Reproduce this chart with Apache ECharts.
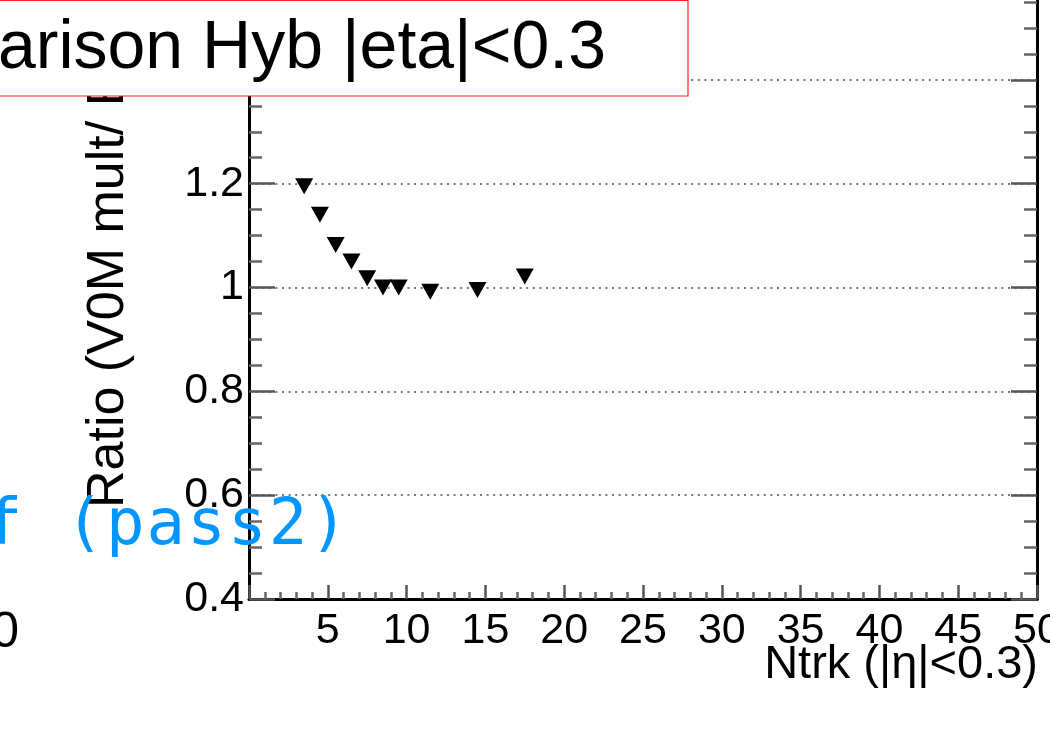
<!DOCTYPE html>
<html>
<head>
<meta charset="utf-8">
<script src="https://cdn.jsdelivr.net/npm/echarts@6/dist/echarts.min.js"></script>
<style>
  html, body { margin: 0; padding: 0; background: #fff; overflow: hidden; width: 1050px; height: 732px; }
  /* the frame top sits above the visible window, so the chart div starts 24px higher */
  #chart { position: absolute; left: 0; top: -24px; width: 1050px; height: 756px; }
</style>
</head>
<body>
<div id="chart"></div>
<script>
// Ntrk bin centres and V0M/Hyb ratio
const ntrk = [3.5, 4.5, 5.5, 6.5, 7.5, 8.5, 9.5, 11.5, 14.5, 17.5];
const ratio = [1.195, 1.14, 1.082, 1.05, 1.018, 1.0, 1.0, 0.992, 0.995, 1.021];

const xMin = 0, xMax = 50, xStep = 5;
const yMin = 0.4, yMax = 1.6, yStep = 0.2;

const titleText = 'Comparison Hyb |eta|<0.3';
const xTitle = 'Ntrk (|η|<0.3)';
const yTitle = 'Ratio (V0M mult/ Eta)';
const periodText = 'LHC22f (pass2)';

const OFF = 24; // page y -> chart y
const font = 'Liberation Sans, Arial, sans-serif';

const chart = echarts.init(document.getElementById('chart'));

const yAxisBase = {
  type: 'value',
  min: yMin,
  max: yMax,
  interval: yStep,
  axisLine: { show: true, lineStyle: { color: '#000', width: 3 } },
  axisTick: { show: true, inside: true, length: 26, lineStyle: { color: '#555', width: 2.5 } },
  minorTick: { show: true, splitNumber: 4, length: 13, lineStyle: { color: '#666', width: 2.5 } },
  minorSplitLine: { show: false }
};

// blue label drawn with fixed-width cells (wide monospace spacing)
const periodRich = periodText.split('').map(c => '{c|' + c + '}').join('');

const option = {
  backgroundColor: '#fff',
  animation: false,
  grid: { left: 249, right: 13, top: 0, bottom: 133, containLabel: false, outerBoundsMode: 'none' },
  xAxis: {
    type: 'value',
    min: xMin,
    max: xMax,
    interval: xStep,
    axisLine: { show: true, onZero: false, lineStyle: { color: '#000', width: 3 } },
    axisTick: { show: true, inside: true, length: 14, lineStyle: { color: '#555', width: 2.5 } },
    minorTick: { show: true, splitNumber: 5, length: 7, lineStyle: { color: '#666', width: 2.5 } },
    splitLine: { show: false },
    axisLabel: {
      color: '#000',
      fontFamily: font,
      fontSize: 43,
      margin: 11,
      showMinLabel: true,
      showMaxLabel: true,
      hideOverlap: false,
      formatter: v => (v === 0 ? '' : String(v))
    }
  },
  yAxis: [
    Object.assign({}, yAxisBase, {
      position: 'left',
      splitLine: { show: true, lineStyle: { color: '#777', width: 2, type: [2, 4.6] } },
      axisLabel: {
        color: '#000',
        fontFamily: font,
        fontSize: 43,
        margin: 5,
        formatter: v => String(+v.toFixed(1))
      }
    }),
    Object.assign({}, yAxisBase, {
      position: 'right',
      splitLine: { show: false },
      axisLabel: { show: false }
    })
  ],
  series: [
    {
      type: 'scatter',
      data: ntrk.map((x, i) => [x, ratio[i]]),
      symbol: 'triangle',
      symbolRotate: 180,
      symbolSize: [18, 16],
      itemStyle: { color: '#000', opacity: 1 },
      z: 5
    }
  ],
  graphic: [
    {
      type: 'text',
      x: 109,
      y: 508 + OFF,
      rotation: Math.PI / 2,
      z: 10,
      style: {
        text: yTitle,
        fill: '#000',
        font: '52px ' + font,
        textAlign: 'left',
        textVerticalAlign: 'middle'
      }
    },
    {
      type: 'text',
      x: 1038,
      y: 665 + OFF,
      z: 10,
      style: {
        text: xTitle,
        fill: '#000',
        font: '47px ' + font,
        textAlign: 'right',
        textVerticalAlign: 'middle'
      }
    },
    {
      type: 'text',
      x: 19,
      y: 633 + OFF,
      z: 10,
      style: {
        text: '0',
        fill: '#000',
        font: '50px ' + font,
        textAlign: 'right',
        textVerticalAlign: 'middle'
      }
    },
    {
      type: 'rect',
      z: 20,
      shape: { x: -5, y: 0.5 + OFF, width: 693, height: 95.5 },
      style: { fill: '#fff', stroke: '#ff2020', lineWidth: 1.2 }
    },
    {
      type: 'text',
      x: 606,
      y: 49 + OFF,
      z: 21,
      style: {
        text: titleText,
        fill: '#000',
        font: '68px ' + font,
        textAlign: 'right',
        textVerticalAlign: 'middle'
      }
    },
    {
      type: 'text',
      x: 349,
      y: 527 + OFF,
      z: 30,
      style: {
        text: periodRich,
        textAlign: 'right',
        textVerticalAlign: 'middle',
        rich: {
          c: {
            width: 40.7,
            align: 'center',
            fill: '#0096ff',
            font: '64px "DejaVu Sans Mono", monospace'
          }
        }
      }
    }
  ]
};

chart.setOption(option);
</script>
</body>
</html>
